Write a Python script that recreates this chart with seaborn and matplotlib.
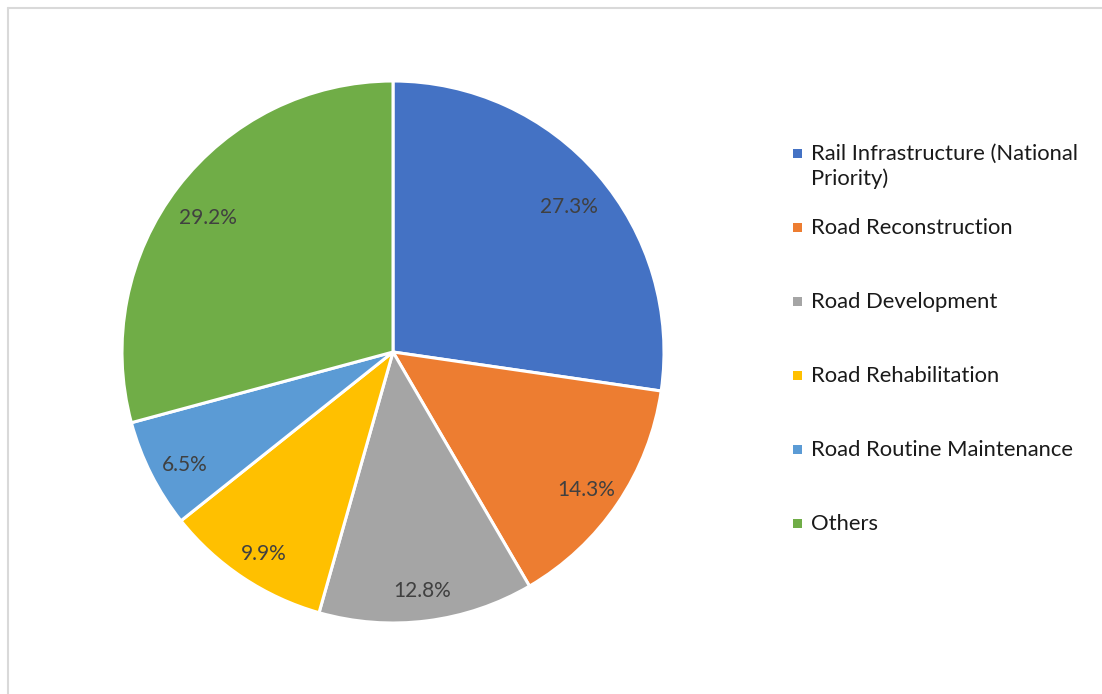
import matplotlib.pyplot as plt
import seaborn as sns
from matplotlib.patches import Rectangle
from matplotlib.lines import Line2D

sns.set_theme(style='white')
plt.rcParams['font.family'] = ['Lato', 'DejaVu Sans']

categories = ['Rail Infrastructure (National\nPriority)', 'Road Reconstruction',
              'Road Development', 'Road Rehabilitation',
              'Road Routine Maintenance', 'Others']
shares = [27.3, 14.3, 12.8, 9.9, 6.5, 29.2]
colors = ['#4472C4', '#ED7D31', '#A5A5A5', '#FFC000', '#5B9BD5', '#70AD47']

W, H = 1102, 694
fig = plt.figure(figsize=(W / 100, H / 100), dpi=100)

# pie centre ~ (393, 352) px, radius ~270 px
cx, cy, r = 393, 352, 271
ax = fig.add_axes([(cx - r) / W, 1 - (cy + r) / H, 2 * r / W, 2 * r / H])
wedges, texts, autotexts = ax.pie(
    shares, colors=colors, startangle=90, counterclock=False,
    autopct='%.1f%%', pctdistance=0.86, radius=1,
    wedgeprops={'edgecolor': 'white', 'linewidth': 2.2},
    textprops={'fontsize': 15, 'color': '#404040'})
# excel sits its data labels a touch lower
for t in autotexts:
    x, y = t.get_position()
    t.set_position((x, y - 0.028))
ax.set_xlim(-1, 1)
ax.set_ylim(-1, 1)
ax.set_aspect('equal')
ax.axis('off')

# legend, drawn by hand so the wrapped first entry keeps its marker on line 1
y0, step = 153, 74
for i, (lab, col) in enumerate(zip(categories, colors)):
    ypx = y0 + i * step
    fig.add_artist(Rectangle((793 / W, 1 - (ypx + 4.5) / H), 9 / W, 9 / H,
                             transform=fig.transFigure, facecolor=col,
                             edgecolor='none'))
    fig.text(811 / W, 1 - (ypx - 9) / H, lab, fontsize=15.8, color='#1a1a1a',
             va='top', ha='left', linespacing=1.28)

# light frame around the chart area
fig.add_artist(Line2D([7.5 / W, 7.5 / W], [0, 1 - 7.5 / H], color='#D9D9D9',
                      lw=1.5, transform=fig.transFigure))
fig.add_artist(Line2D([7.5 / W, 1], [1 - 7.5 / H, 1 - 7.5 / H], color='#D9D9D9',
                      lw=1.5, transform=fig.transFigure))

fig.savefig('out.png', dpi=100, facecolor='white')
